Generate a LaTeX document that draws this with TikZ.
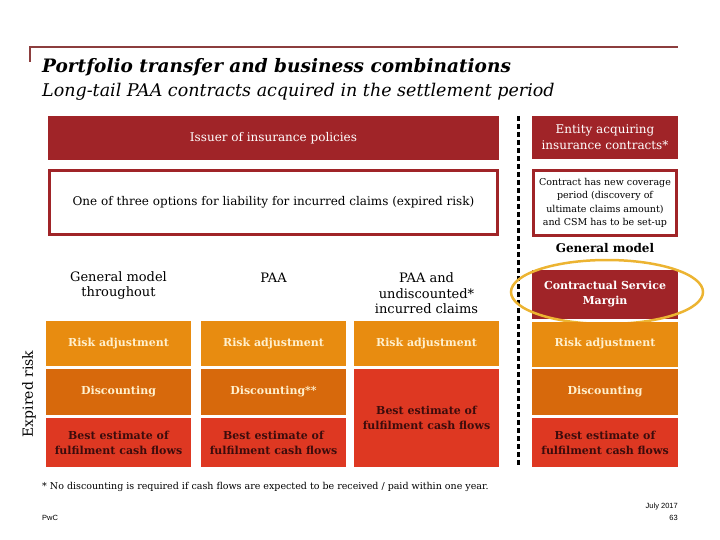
\documentclass[tikz,border=0pt]{standalone}
\usepackage{fontspec}
\setmainfont{DejaVu Serif}
\newfontfamily\footfont{Liberation Sans}
\usetikzlibrary{positioning,shapes.geometric}

\definecolor{pwcred}{RGB}{160,36,40}
\definecolor{frameline}{RGB}{140,62,62}
\definecolor{riskorange}{RGB}{232,140,16}
\definecolor{discorange}{RGB}{215,105,12}
\definecolor{bestred}{RGB}{222,56,34}
\definecolor{cream}{RGB}{255,240,205}
\definecolor{besttext}{RGB}{60,12,12}
\definecolor{csmring}{RGB}{236,180,50}

\tikzset{
  cell/.style={inner sep=0pt, minimum width=145pt, align=center,
    font=\fontsize{12}{15}\selectfont},
  redbox/.style={cell, fill=pwcred, text=white},
  optbox/.style={cell, draw=pwcred, line width=3pt, fill=white},
  riskcell/.style={cell, fill=riskorange, text=cream,
    font=\fontsize{11}{15}\selectfont\bfseries, minimum height=45pt},
  disccell/.style={riskcell, fill=discorange, minimum height=46pt},
  bestcell/.style={riskcell, fill=bestred, text=besttext, minimum height=49pt},
  colhead/.style={align=center, font=\fontsize{13}{15.5}\selectfont},
  divider/.style={line width=3pt, dash pattern=on 5pt off 3pt},
}

\begin{document}
\begin{tikzpicture}[x=1pt,y=-1pt]
  \useasboundingbox (0,0) rectangle (720,540);

  % title frame
  \draw[frameline, line width=2pt] (30,62) -- (30,47) -- (678,47);
  \node[anchor=base west, inner sep=0pt, font=\fontsize{18.5}{20}\selectfont\bfseries\itshape]
    (title) at (42,73) {Portfolio transfer and business combinations};
  \node[anchor=base west, inner sep=0pt, font=\fontsize{17.5}{20}\selectfont\itshape]
    (subtitle) at (42,97) {Long-tail PAA contracts acquired in the settlement period};

  % issuer side
  \node[redbox, minimum width=451pt, minimum height=44pt] (issuer) at (273.5,138)
    {Issuer of insurance policies};
  \node[optbox, minimum width=448pt, minimum height=64pt] (options) at (273.5,202.5)
    {One of three options for liability for incurred claims (expired risk)};

  % acquirer side
  \node[redbox, minimum width=146pt, minimum height=43pt, font=\fontsize{12}{16}\selectfont]
    (entity) at (605,137.5) {Entity acquiring\\insurance contracts*};
  \node[optbox, minimum width=143pt, minimum height=65pt, font=\fontsize{9.5}{13.5}\selectfont]
    (newcover) at (605,203) {Contract has new coverage\\period (discovery of\\ultimate claims amount)\\and CSM has to be set-up};
  \node[font=\fontsize{12}{14}\selectfont\bfseries] (genmodel) at (605,248) {General model};

  % divider
  \coordinate (dtop) at (518,116);
  \coordinate (dbot) at (518,467);
  \draw[divider] (dtop) -- (dbot);

  % column heads
  \node[colhead] (head1) at (118.5,285.5) {General model\\throughout};
  \node[colhead] (head2) at (273.5,278) {PAA};
  \node[colhead] (head3) at (426.5,293.5) {PAA and\\undiscounted*\\incurred claims};

  % general model throughout
  \node[riskcell] (risk1) at (118.5,343.5) {Risk adjustment};
  \node[disccell] (disc1) at (118.5,392) {Discounting};
  \node[bestcell] (best1) at (118.5,442.5) {Best estimate of\\fulfilment cash flows};

  % PAA
  \node[riskcell] (risk2) at (273.5,343.5) {Risk adjustment};
  \node[disccell] (disc2) at (273.5,392) {Discounting**};
  \node[bestcell] (best2) at (273.5,442.5) {Best estimate of\\fulfilment cash flows};

  % PAA undiscounted
  \node[riskcell] (risk3) at (426.5,343.5) {Risk adjustment};
  \node[bestcell, minimum height=98pt] (best3) at (426.5,418) {Best estimate of\\fulfilment cash flows};

  % acquirer, general model
  \node[redbox, minimum width=146pt, minimum height=49pt, font=\fontsize{11}{15}\selectfont\bfseries]
    (csm) at (605,294.5) {Contractual Service\\Margin};
  \node[draw=csmring, line width=2.5pt, ellipse, minimum width=192pt, minimum height=64pt]
    (csmring) at (607,292) {};
  \node[riskcell, minimum width=146pt] (risk4) at (605,344) {Risk adjustment};
  \node[disccell, minimum width=146pt] (disc4) at (605,392) {Discounting};
  \node[bestcell, minimum width=146pt] (best4) at (605,442.5) {Best estimate of\\fulfilment cash flows};

  \node[rotate=90, font=\fontsize{14}{16}\selectfont] (expired) at (29,394) {Expired risk};

  % footer
  \node[anchor=base west, inner sep=0pt, font=\fontsize{9.5}{11}\selectfont] (note) at (42,489)
    {* No discounting is required if cash flows are expected to be received / paid within one year.};
  \node[anchor=base west, inner sep=0pt, font=\footfont\fontsize{7.5}{9}\selectfont] (pwc) at (42,520) {PwC};
  \node[anchor=base east, inner sep=0pt, font=\footfont\fontsize{7.5}{9}\selectfont] (date) at (678,508) {July 2017};
  \node[anchor=base east, inner sep=0pt, font=\footfont\fontsize{7.5}{9}\selectfont] (page) at (678,520) {63};
\end{tikzpicture}
\end{document}
